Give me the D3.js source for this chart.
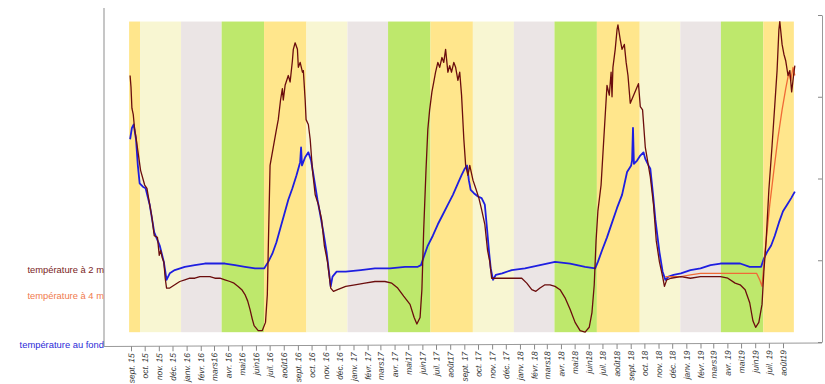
<!DOCTYPE html>
<html><head><meta charset="utf-8">
<script src="https://cdn.jsdelivr.net/npm/d3@7"></script>
<style>body{margin:0;background:#fff}svg{display:block}</style>
</head><body><svg id="c" width="825" height="384"></svg>
<script>
// ---------- DATA ----------
const t2 = [["2015-08-30",16.3],["2015-09-01",15.6],["2015-09-03",14.3],["2015-09-06",13.9],["2015-09-09",13.0],["2015-09-12",12.5],["2015-09-16",11.7],["2015-09-22",10.5],["2015-10-01",9.6],["2015-10-06",9.4],["2015-10-12",8.4],["2015-10-17",7.6],["2015-10-22",6.5],["2015-10-29",6.4],["2015-11-02",5.3],["2015-11-05",5.6],["2015-11-09",5.1],["2015-11-12",4.9],["2015-11-15",3.9],["2015-11-18",3.3],["2015-11-25",3.3],["2015-12-06",3.5],["2015-12-17",3.7],["2015-12-28",3.8],["2016-01-08",3.9],["2016-01-19",3.9],["2016-01-30",4.0],["2016-02-10",4.0],["2016-02-21",4.0],["2016-03-03",3.9],["2016-03-14",3.9],["2016-03-25",3.8],["2016-04-05",3.7],["2016-04-14",3.6],["2016-04-23",3.4],["2016-05-01",3.2],["2016-05-08",2.9],["2016-05-14",2.5],["2016-05-19",2.0],["2016-05-24",1.4],["2016-05-28",1.0],["2016-06-06",0.7],["2016-06-15",0.7],["2016-06-22",1.2],["2016-06-26",2.9],["2016-06-28",5.6],["2016-07-02",10.8],["2016-07-09",11.9],["2016-07-16",13.0],["2016-07-20",13.6],["2016-07-25",14.8],["2016-07-29",15.5],["2016-07-31",14.8],["2016-08-04",15.7],["2016-08-11",16.3],["2016-08-15",15.9],["2016-08-20",17.2],["2016-08-22",17.9],["2016-08-26",18.3],["2016-08-31",17.9],["2016-09-02",16.8],["2016-09-06",17.1],["2016-09-11",16.5],["2016-09-13",16.6],["2016-09-17",14.8],["2016-09-19",13.6],["2016-09-24",13.3],["2016-09-28",12.4],["2016-10-03",10.5],["2016-10-09",9.0],["2016-10-16",8.4],["2016-10-23",7.5],["2016-10-29",5.9],["2016-11-05",4.9],["2016-11-12",3.3],["2016-11-18",3.1],["2016-11-27",3.2],["2016-12-15",3.4],["2017-01-04",3.5],["2017-01-26",3.6],["2017-02-17",3.7],["2017-03-11",3.7],["2017-03-26",3.6],["2017-04-08",3.3],["2017-04-21",2.8],["2017-05-05",2.3],["2017-05-14",1.5],["2017-05-20",1.1],["2017-05-27",1.5],["2017-05-31",3.2],["2017-06-04",6.9],["2017-06-09",10.5],["2017-06-13",13.0],["2017-06-17",14.2],["2017-06-22",15.3],["2017-06-26",15.9],["2017-06-30",16.5],["2017-07-05",17.1],["2017-07-09",16.8],["2017-07-14",17.4],["2017-07-18",17.1],["2017-07-22",17.9],["2017-07-27",16.5],["2017-07-31",16.9],["2017-08-04",16.5],["2017-08-09",17.1],["2017-08-13",16.8],["2017-08-18",16.0],["2017-08-22",16.5],["2017-08-26",15.1],["2017-08-31",12.4],["2017-09-04",10.8],["2017-09-09",10.2],["2017-09-13",10.8],["2017-09-20",9.9],["2017-09-26",9.4],["2017-10-03",8.8],["2017-10-09",8.1],["2017-10-16",7.2],["2017-10-22",5.6],["2017-10-27",4.9],["2017-10-31",3.9],["2017-11-07",3.9],["2017-11-29",3.9],["2017-12-21",3.9],["2018-01-05",3.9],["2018-01-16",3.6],["2018-01-27",3.2],["2018-02-05",3.1],["2018-02-14",3.3],["2018-02-25",3.5],["2018-03-08",3.5],["2018-03-19",3.4],["2018-03-30",3.2],["2018-04-10",2.7],["2018-04-21",2.0],["2018-05-02",1.2],["2018-05-13",0.7],["2018-05-24",0.6],["2018-06-02",0.9],["2018-06-08",1.8],["2018-06-13",3.5],["2018-06-17",6.2],["2018-06-21",8.0],["2018-06-28",9.6],["2018-07-05",12.9],["2018-07-11",15.7],["2018-07-16",15.1],["2018-07-20",16.5],["2018-07-22",15.0],["2018-07-24",16.8],["2018-07-29",17.9],["2018-08-02",19.1],["2018-08-04",19.4],["2018-08-09",18.5],["2018-08-13",17.9],["2018-08-18",18.2],["2018-08-22",17.1],["2018-08-26",16.3],["2018-08-31",14.6],["2018-09-06",15.0],["2018-09-15",15.6],["2018-09-18",15.8],["2018-09-22",14.4],["2018-09-27",14.2],["2018-10-03",11.9],["2018-10-14",10.1],["2018-10-21",8.4],["2018-10-27",6.2],["2018-11-03",4.9],["2018-11-10",4.0],["2018-11-14",3.4],["2018-11-19",3.8],["2018-11-28",3.9],["2018-12-20",4.0],["2019-01-10",3.9],["2019-02-01",4.0],["2019-02-23",4.0],["2019-03-17",4.0],["2019-04-02",3.9],["2019-04-18",3.6],["2019-04-29",3.5],["2019-05-10",3.2],["2019-05-20",2.4],["2019-05-27",1.3],["2019-06-02",0.9],["2019-06-09",1.2],["2019-06-16",2.3],["2019-06-20",4.3],["2019-06-25",6.2],["2019-07-01",9.3],["2019-07-08",12.0],["2019-07-14",14.5],["2019-07-19",16.6],["2019-07-23",19.1],["2019-07-25",19.6],["2019-07-30",18.2],["2019-08-03",17.6],["2019-08-07",17.2],["2019-08-12",16.3],["2019-08-16",16.6],["2019-08-20",15.3],["2019-08-25",16.5],["2019-08-27",16.9]];

const t4 = [["2018-11-16",4.0],["2018-11-28",4.0],["2018-12-20",4.0],["2019-01-10",4.1],["2019-02-01",4.2],["2019-02-23",4.2],["2019-03-17",4.2],["2019-04-07",4.2],["2019-04-29",4.2],["2019-05-20",4.2],["2019-06-04",4.2],["2019-06-11",3.8],["2019-06-16",3.4],["2019-06-20",4.7],["2019-06-25",6.2],["2019-07-03",8.4],["2019-07-12",10.5],["2019-07-21",12.5],["2019-07-30",14.2],["2019-08-07",15.5],["2019-08-14",16.5],["2019-08-18",16.0],["2019-08-23",16.8],["2019-08-27",16.3]];

const tFond = [["2015-08-30",12.4],["2015-09-03",13.1],["2015-09-07",13.3],["2015-09-12",12.4],["2015-09-16",10.8],["2015-09-20",9.7],["2015-09-27",9.5],["2015-10-03",9.4],["2015-10-12",8.4],["2015-10-22",6.7],["2015-11-03",5.9],["2015-11-12",4.9],["2015-11-18",3.8],["2015-11-25",4.2],["2015-12-06",4.4],["2015-12-28",4.6],["2016-01-19",4.7],["2016-02-10",4.8],["2016-03-03",4.8],["2016-03-25",4.8],["2016-04-16",4.7],["2016-05-08",4.6],["2016-05-30",4.5],["2016-06-19",4.5],["2016-06-28",4.9],["2016-07-07",5.4],["2016-07-16",6.1],["2016-07-25",7.0],["2016-08-02",7.8],["2016-08-11",8.7],["2016-08-20",9.4],["2016-08-29",10.2],["2016-09-04",10.8],["2016-09-06",11.0],["2016-09-08",11.9],["2016-09-10",10.8],["2016-09-17",11.3],["2016-09-24",11.6],["2016-09-30",11.1],["2016-10-07",9.9],["2016-10-14",8.7],["2016-10-20",7.8],["2016-10-27",6.7],["2016-11-03",5.5],["2016-11-09",4.1],["2016-11-12",3.4],["2016-11-16",4.0],["2016-11-25",4.3],["2016-12-15",4.3],["2017-01-17",4.4],["2017-02-17",4.5],["2017-03-22",4.5],["2017-04-24",4.6],["2017-05-22",4.6],["2017-05-29",4.7],["2017-06-04",5.2],["2017-06-13",5.9],["2017-06-24",6.5],["2017-07-05",7.2],["2017-07-16",7.8],["2017-07-27",8.4],["2017-08-07",9.0],["2017-08-18",9.7],["2017-08-26",10.2],["2017-09-02",10.6],["2017-09-07",10.8],["2017-09-11",9.9],["2017-09-15",9.3],["2017-09-22",9.1],["2017-10-01",8.9],["2017-10-09",8.8],["2017-10-16",8.4],["2017-10-20",7.2],["2017-10-25",5.6],["2017-10-29",4.5],["2017-11-03",3.8],["2017-11-09",4.1],["2017-11-23",4.2],["2017-12-14",4.4],["2018-01-12",4.5],["2018-02-14",4.7],["2018-03-19",4.9],["2018-04-21",4.8],["2018-05-24",4.6],["2018-06-15",4.5],["2018-06-21",4.9],["2018-06-30",5.6],["2018-07-11",6.4],["2018-07-22",7.3],["2018-08-02",8.2],["2018-08-13",9.0],["2018-08-24",10.4],["2018-09-02",10.8],["2018-09-04",11.1],["2018-09-06",13.1],["2018-09-08",10.9],["2018-09-15",11.1],["2018-09-22",11.4],["2018-09-29",11.6],["2018-10-03",11.2],["2018-10-10",10.8],["2018-10-14",10.6],["2018-10-20",9.0],["2018-10-25",7.5],["2018-11-03",5.5],["2018-11-10",4.3],["2018-11-16",3.8],["2018-11-23",4.0],["2018-12-04",4.1],["2018-12-20",4.2],["2019-01-10",4.4],["2019-02-01",4.5],["2019-02-23",4.7],["2019-03-17",4.8],["2019-04-07",4.8],["2019-04-29",4.8],["2019-05-20",4.6],["2019-06-14",4.6],["2019-06-20",5.1],["2019-06-27",5.5],["2019-07-06",5.9],["2019-07-14",6.5],["2019-07-23",7.3],["2019-08-01",8.0],["2019-08-10",8.4],["2019-08-19",8.8],["2019-08-27",9.2]];

const seriesNames = ["température à 2 m","température à 4 m","température au fond"];
const seasonStarts = ["2015-09-23","2015-12-22","2016-03-20","2016-06-21","2016-09-22","2016-12-21","2017-03-20","2017-06-21","2017-09-22","2017-12-21","2018-03-20","2018-06-21","2018-09-23","2018-12-21","2019-03-20","2019-06-21"];
const seasonCycle = ["été","automne","hiver","printemps"];
const monthTicks = ["2015-09-01","2015-10-01","2015-11-01","2015-12-01","2016-01-01","2016-02-01","2016-03-01","2016-04-01","2016-05-01","2016-06-01","2016-07-01","2016-08-01","2016-09-01","2016-10-01","2016-11-01","2016-12-01","2017-01-01","2017-02-01","2017-03-01","2017-04-01","2017-05-01","2017-06-01","2017-07-01","2017-08-01","2017-09-01","2017-10-01","2017-11-01","2017-12-01","2018-01-01","2018-02-01","2018-03-01","2018-04-01","2018-05-01","2018-06-01","2018-07-01","2018-08-01","2018-09-01","2018-10-01","2018-11-01","2018-12-01","2019-01-01","2019-02-01","2019-03-01","2019-04-01","2019-05-01","2019-06-01","2019-07-01","2019-08-01"];
const tickLabels = ["sept. 15","oct. 15","nov. 15","déc. 15","janv. 16","févr. 16","mars16","avr. 16","mai16","juin16","juil. 16","août16","sept. 16","oct. 16","nov. 16","déc. 16","janv. 17","févr. 17","mars17","avr. 17","mai17","juin17","juil. 17","août17","sept. 17","oct. 17","nov. 17","déc. 17","janv. 18","févr. 18","mars18","avr. 18","mai18","juin18","juil. 18","août18","sept. 18","oct. 18","nov. 18","déc. 18","janv. 19","févr. 19","mars19","avr. 19","mai19","juin19","juil. 19","août19"];
const rightTicks = [0,5,10,15,20];

// ---------- STYLE ----------
const seasonColor = {"été":"#ffe68c","automne":"#f8f6d2","hiver":"#ebe5e5","printemps":"#bee86c"};
const lineColor = ["#6b0d0d","#f06a36","#1e1ee0"];
const labelColor = ["#7a1d1d","#f07a4e","#2a2ad8"];

// ---------- CHART ----------
const parse = d3.timeParse("%Y-%m-%d");
const svg = d3.select("#c");
const x = d3.scaleTime().domain([parse("2015-09-01"), parse("2019-08-01")]).range([131, 783]);
const y = d3.scaleLinear().domain([0, 20]).range([342, 15]);

const series = [t2, t4, tFond].map(s => s.map(([d, v]) => ({date: parse(d), v})));
const allPts = series.flat();
const [dMin, dMax] = d3.extent(allPts, p => p.date);
const [vMin, vMax] = d3.extent(allPts, p => p.v);

// season bands
const bounds = [dMin, ...seasonStarts.map(parse), dMax];
const bands = d3.range(bounds.length - 1).map(i => ({a: bounds[i], b: bounds[i+1], s: seasonCycle[i % 4]}));
svg.append("g").selectAll("rect").data(bands).join("rect")
  .attr("x", d => x(d.a) - 1).attr("width", d => x(d.b) - x(d.a))
  .attr("y", y(vMax)).attr("height", y(vMin) - y(vMax))
  .attr("fill", d => seasonColor[d.s]);

// lines
const line = d3.line().x(d => x(d.date)).y(d => y(d.v));
const drawOrder = [2, 1, 0];
const widths = [1.3, 1.3, 1.8];
drawOrder.forEach(i => {
  svg.append("path").datum(series[i]).attr("d", line)
    .attr("fill", "none").attr("stroke", lineColor[i])
    .attr("stroke-width", widths[i]).attr("stroke-linejoin", "round");
});

// left axis line
svg.append("line").attr("x1", 104).attr("x2", 104).attr("y1", 8).attr("y2", 346.5)
  .attr("stroke", "#a0a0a0").attr("stroke-width", 1.2);

// bottom axis
const xAxis = d3.axisBottom(x).tickValues(monthTicks.map(parse))
  .tickFormat((d, i) => tickLabels[i]).tickSize(5).tickSizeOuter(0);
const gx = svg.append("g").attr("transform", "translate(0,346.5) rotate(-0.28,104,0)").call(xAxis);
gx.select(".domain").attr("d", "M104,0H822").attr("stroke", "#999");
gx.selectAll(".tick line").attr("stroke", "#888");
gx.selectAll(".tick text")
  .attr("transform", "rotate(-90)").attr("x", -7).attr("y", 0).attr("dy", "0.33em")
  .attr("text-anchor", "end").attr("fill", "#333")
  .style("font-family", "Liberation Sans, Arial, sans-serif").style("font-style", "italic").style("font-size", "8.4px");

// right axis
const yAxis = d3.axisLeft(y).tickValues(rightTicks).tickFormat("").tickSize(4).tickSizeOuter(0);
const gy = svg.append("g").attr("transform", "translate(822,0)").call(yAxis);
gy.select(".domain").attr("stroke", "#999");
gy.selectAll(".tick line").attr("stroke", "#888");

// series labels on the left
const labelY = [273, 299, 348];
svg.append("g").selectAll("text").data(seriesNames).join("text")
  .attr("x", 104).attr("y", (d, i) => labelY[i]).attr("text-anchor", "end")
  .attr("fill", (d, i) => labelColor[i])
  .style("font-family", "Liberation Sans, Arial, sans-serif").style("font-size", "9.4px")
  .text(d => d);
</script>
</body></html>
